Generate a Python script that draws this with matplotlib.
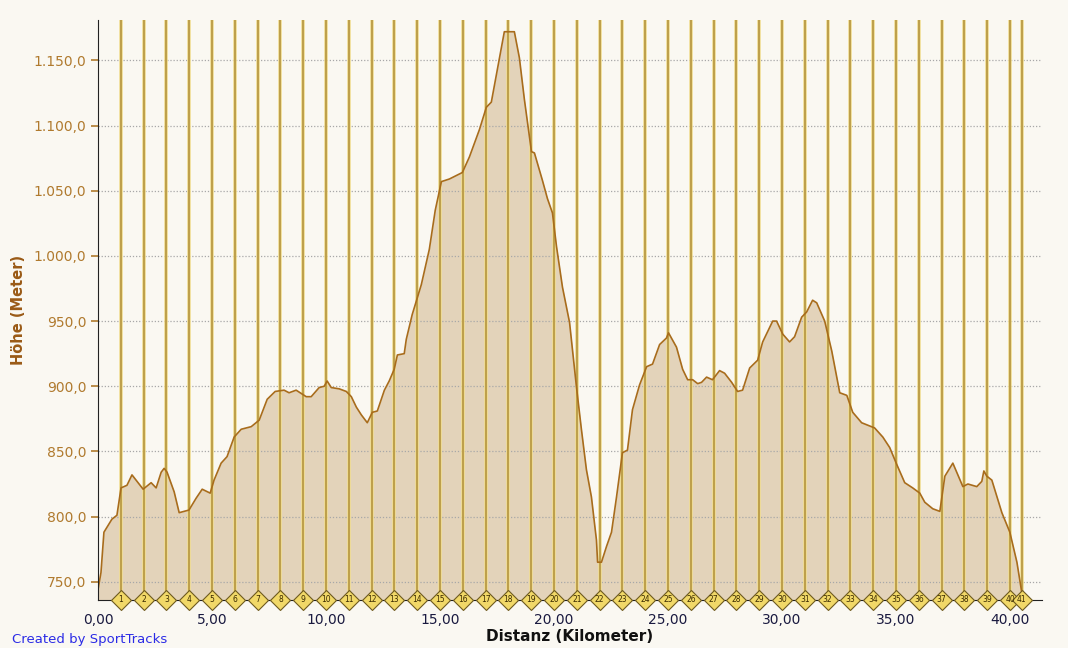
import matplotlib
matplotlib.use("Agg")
import matplotlib.pyplot as plt
from matplotlib.ticker import FuncFormatter, MultipleLocator

# elevation profile (km, metres)
dist_km = [0.0, 0.13, 0.26, 0.40, 0.61, 0.83, 1.01, 1.27, 1.49, 1.71, 1.98, 2.33, 2.55, 2.77, 2.90,
           3.03, 3.34, 3.56, 3.99, 4.30, 4.57, 4.92, 5.09, 5.40, 5.66, 5.97, 6.28, 6.72, 7.07, 7.42,
           7.77, 8.16, 8.38, 8.69, 9.13, 9.35, 9.70, 9.92, 10.05, 10.23, 10.58, 10.89, 11.11, 11.33,
           11.55, 11.81, 12.03, 12.25, 12.56, 12.77, 12.99, 13.13, 13.43, 13.52, 13.78, 14.18, 14.53,
           14.79, 15.06, 15.41, 15.98, 16.29, 16.73, 17.03, 17.25, 17.60, 17.82, 18.26, 18.48, 18.70,
           19.01, 19.14, 19.49, 19.71, 19.93, 20.11, 20.37, 20.68, 20.98, 21.20, 21.42, 21.64, 21.86,
           21.91, 22.08, 22.30, 22.52, 22.74, 23.00, 23.22, 23.44, 23.75, 24.06, 24.32, 24.63, 24.93,
           25.02, 25.37, 25.64, 25.86, 26.08, 26.30, 26.47, 26.69, 26.95, 27.26, 27.48, 27.79, 28.05,
           28.27, 28.58, 28.93, 29.15, 29.59, 29.76, 30.03, 30.33, 30.55, 30.86, 31.08, 31.34, 31.52,
           31.87, 32.18, 32.53, 32.84, 33.10, 33.49, 34.06, 34.42, 34.72, 35.03, 35.38, 35.73, 36.04,
           36.26, 36.61, 36.92, 37.14, 37.49, 37.71, 37.93, 38.15, 38.54, 38.76, 38.85, 38.98, 39.20,
           39.64, 39.99, 40.30, 40.52]
elev_m = [744, 757, 788, 792, 798, 801, 822, 824, 832, 827, 821, 826, 822, 834, 837,
          834, 819, 803, 805, 814, 821, 818, 828, 841, 846, 861, 867, 869, 874, 890,
          896, 897, 895, 897, 892, 892, 899, 900, 904, 899, 898, 896, 892, 884,
          878, 872, 880, 881, 897, 904, 913, 924, 925, 936, 955, 978, 1005,
          1035, 1057, 1059, 1064, 1076, 1097, 1114, 1118, 1151, 1172, 1172, 1152, 1120,
          1080, 1079, 1058, 1044, 1033, 1007, 976, 949, 900, 867, 836, 815, 782,
          765, 765, 777, 788, 815, 849, 851, 882, 901, 915, 917, 932, 937,
          941, 930, 913, 905, 905, 902, 903, 907, 905, 912, 910, 903, 896,
          897, 914, 920, 934, 950, 950, 940, 934, 938, 953, 957, 966, 964,
          950, 927, 895, 893, 880, 872, 868, 861, 853, 840, 826, 822, 818,
          811, 806, 804, 831, 841, 832, 823, 825, 823, 827, 835, 831, 828,
          803, 788, 765, 741]

# kilometre markers (last one sits at the end of the track)
km_marks = list(range(1, 41)) + [40.52]
km_labels = [str(i) for i in range(1, 42)]

bg = "#FAF8F2"
fig = plt.figure(figsize=(10.68, 6.48), dpi=100, facecolor=bg)
ax = fig.add_axes([98 / 1068, 1 - 600 / 648, (1042 - 98) / 1068, (600 - 20) / 648])
ax.set_facecolor(bg)

ymin, ymax = 736, 1181
ax.set_xlim(0, 41.4)
ax.set_ylim(ymin, ymax)

ax.fill_between(dist_km, elev_m, ymin, color="#E3D3BA", lw=0, zorder=1)
ax.plot(dist_km, elev_m, color="#A86C1C", lw=1.2, zorder=4)

ax.yaxis.set_major_locator(MultipleLocator(50))
ax.xaxis.set_major_locator(MultipleLocator(5))
ax.grid(axis="y", color="#A8A8A8", ls=(0, (1, 1.5)), lw=0.9, zorder=2)
ax.set_axisbelow(False)

for k in km_marks:
    ax.axvline(k, color="#F0DC90", lw=2.6, zorder=3)
    ax.axvline(k, color="#B08E38", lw=1.1, zorder=3)

ax.plot(km_marks, [ymin] * len(km_marks), ls="none", marker="D", ms=10.5,
        mfc="#F1D868", mec="#6E5A20", mew=0.8, clip_on=False, zorder=6)
for k, lab in zip(km_marks, km_labels):
    ax.text(k, ymin, lab, ha="center", va="center", fontsize=5.5, color="#3A2A00",
            clip_on=False, zorder=7)

for s in ["top", "right"]:
    ax.spines[s].set_visible(False)
ax.spines["left"].set_color("#222222")
ax.spines["bottom"].set_color("#222222")
ax.spines["left"].set_zorder(8)
ax.spines["bottom"].set_zorder(5)

ax.yaxis.set_major_formatter(FuncFormatter(
    lambda v, p: f"{v:,.1f}".replace(",", "X").replace(".", ",").replace("X", ".")))
ax.xaxis.set_major_formatter(FuncFormatter(lambda v, p: f"{v:.2f}".replace(".", ",")))
ax.tick_params(axis="y", colors="#B07A2E", labelsize=10, length=5, width=1.2)
ax.tick_params(axis="x", length=0, labelsize=10, labelcolor="#1A1A40", pad=9)

ax.set_ylabel("Höhe (Meter)", fontsize=10.5, fontweight="bold", color="#9A5A16", labelpad=5)
ax.set_xlabel("Distanz (Kilometer)", fontsize=11, fontweight="bold", color="#111111", labelpad=2)

fig.text(12 / 1068, 1 - 640 / 648, "Created by SportTracks", fontsize=9.5, color="#2B2BE6",
         ha="left", va="center")

fig.savefig("out.png", dpi=100, facecolor=bg)
